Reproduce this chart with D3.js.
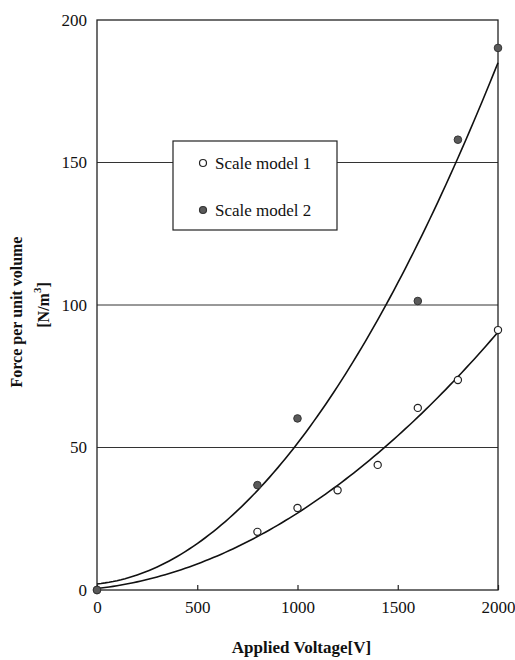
<!DOCTYPE html>
<html>
<head>
<meta charset="utf-8">
<script src="https://cdn.jsdelivr.net/npm/d3@7"></script>
<style>
  body { margin: 0; background: #fff; }
  svg text { font-family: "Liberation Serif", "Times New Roman", Tinos, "DejaVu Serif", serif; fill: #111; }
</style>
</head>
<body>
<div id="chart"></div>
<script>
// data
const voltage1 = [0, 800, 1000, 1200, 1400, 1600, 1800, 2000]
const force1 = [0, 20.4, 28.8, 35, 43.9, 63.9, 73.7, 91.2]
const voltage2 = [0, 800, 1000, 1600, 1800, 2000]
const force2 = [0, 36.8, 60.2, 101.4, 158, 190.2]
const seriesNames = ["Scale model 1", "Scale model 2"]
const xTicks = [0, 500, 1000, 1500, 2000]
const yTicks = [0, 50, 100, 150, 200]

const serif = '"Liberation Serif", "Times New Roman", Tinos, "DejaVu Serif", serif'

const margin = { top: 20, right: 17, bottom: 70, left: 97 }
const width = 515 - margin.left - margin.right
const height = 660 - margin.top - margin.bottom

const svg = d3.select("#chart").append("svg")
    .attr("width", 515)
    .attr("height", 660)
    .attr("font-family", serif)
  .append("g")
    .attr("transform", "translate(" + margin.left + "," + margin.top + ")")

const x = d3.scaleLinear().domain([0, 2000]).range([0, width])
const y = d3.scaleLinear().domain([0, 200]).range([height, 0])

// least squares 2nd order polynomial (like the spreadsheet trendline)
function quadFit(xs, ys) {
  const s = [0, 0, 0, 0, 0], t = [0, 0, 0]
  xs.forEach((v, i) => {
    const u = v / 1000
    for (let k = 0; k < 5; k++) s[k] += Math.pow(u, k)
    for (let k = 0; k < 3; k++) t[k] += ys[i] * Math.pow(u, k)
  })
  const m = [[s[0], s[1], s[2], t[0]], [s[1], s[2], s[3], t[1]], [s[2], s[3], s[4], t[2]]]
  for (let i = 0; i < 3; i++) {
    for (let j = i + 1; j < 3; j++) {
      const f = m[j][i] / m[i][i]
      for (let k = i; k < 4; k++) m[j][k] -= f * m[i][k]
    }
  }
  const c = [0, 0, 0]
  for (let i = 2; i >= 0; i--) {
    let sum = m[i][3]
    for (let k = i + 1; k < 3; k++) sum -= m[i][k] * c[k]
    c[i] = sum / m[i][i]
  }
  return v => { const u = v / 1000; return c[0] + c[1] * u + c[2] * u * u }
}

// gridlines
svg.selectAll("line.grid")
  .data(yTicks.filter(d => d > 0 && d < 200))
  .enter().append("line")
  .attr("class", "grid")
  .attr("x1", 0).attr("x2", width)
  .attr("y1", d => y(d)).attr("y2", d => y(d))
  .style("stroke", "#333").style("stroke-width", 1)

// frame
svg.append("rect")
  .attr("width", width).attr("height", height)
  .style("fill", "none").style("stroke", "#222").style("stroke-width", 1.3)

// axes
svg.append("g")
  .attr("transform", "translate(0," + height + ")")
  .call(d3.axisBottom(x).tickValues(xTicks).tickFormat(d3.format("d"))
    .tickSizeInner(-5).tickSizeOuter(0).tickPadding(11))
  .attr("font-family", serif)
  .call(g => g.select(".domain").remove())
  .call(g => g.selectAll("line").style("stroke", "#222").style("stroke-width", 1.2))
  .call(g => g.selectAll("text").style("font-size", "17px"))

svg.append("g")
  .call(d3.axisLeft(y).tickValues(yTicks).tickSize(0).tickPadding(10))
  .attr("font-family", serif)
  .call(g => g.select(".domain").remove())
  .call(g => g.selectAll("text").style("font-size", "17px"))

// trend curves
const samples = d3.range(0, 2001, 20)
const line = d3.line().x(d => x(d[0])).y(d => y(d[1]))
const fits = [quadFit(voltage1, force1), quadFit(voltage2, force2)]
fits.forEach(f => {
  svg.append("path")
    .datum(samples.map(v => [v, f(v)]))
    .attr("d", line)
    .style("fill", "none").style("stroke", "#111").style("stroke-width", 1.6)
})

// points
svg.selectAll(".p1")
  .data(voltage1.map((v, i) => [v, force1[i]]))
  .enter().append("circle")
  .attr("class", "p1")
  .attr("cx", d => x(d[0])).attr("cy", d => y(d[1])).attr("r", 3.6)
  .style("fill", "#fff").style("stroke", "#222").style("stroke-width", 1.2)

svg.selectAll(".p2")
  .data(voltage2.map((v, i) => [v, force2[i]]))
  .enter().append("circle")
  .attr("class", "p2")
  .attr("cx", d => x(d[0])).attr("cy", d => y(d[1])).attr("r", 3.8)
  .style("fill", "#5a5a5a").style("stroke", "#333").style("stroke-width", 1)

// legend
const legend = svg.append("g").attr("transform", "translate(76,121)")
legend.append("rect")
  .attr("width", 164).attr("height", 89)
  .style("fill", "#fff").style("stroke", "#222").style("stroke-width", 1.2)
seriesNames.forEach((name, i) => {
  const row = legend.append("g").attr("transform", "translate(30," + (22 + i * 47) + ")")
  row.append("circle").attr("r", 3.5)
    .style("fill", i === 0 ? "#fff" : "#5a5a5a")
    .style("stroke", i === 0 ? "#222" : "#333").style("stroke-width", 1.2)
  row.append("text").text(name)
    .attr("x", 12).attr("y", 6)
    .style("font-size", "17px")
})

// axis titles
svg.append("text")
  .text("Applied Voltage[V]")
  .attr("x", x(1020)).attr("y", height + 63)
  .style("text-anchor", "middle")
  .style("font-size", "17px").style("font-weight", "bold")

svg.append("text")
  .text("Force per unit volume")
  .attr("transform", "translate(" + (22 - margin.left) + "," + (312 - margin.top) + ") rotate(-90)")
  .style("text-anchor", "middle")
  .style("font-size", "16px").style("font-weight", "bold")

const unit = svg.append("text")
  .attr("transform", "translate(" + (49 - margin.left) + "," + (305 - margin.top) + ") rotate(-90)")
  .style("text-anchor", "middle")
  .style("font-size", "16px").style("font-weight", "bold")
unit.append("tspan").text("[N/m")
unit.append("tspan").text("3").attr("dy", -8).style("font-size", "11px")
unit.append("tspan").text("]").attr("dy", 8)
</script>
</body>
</html>
